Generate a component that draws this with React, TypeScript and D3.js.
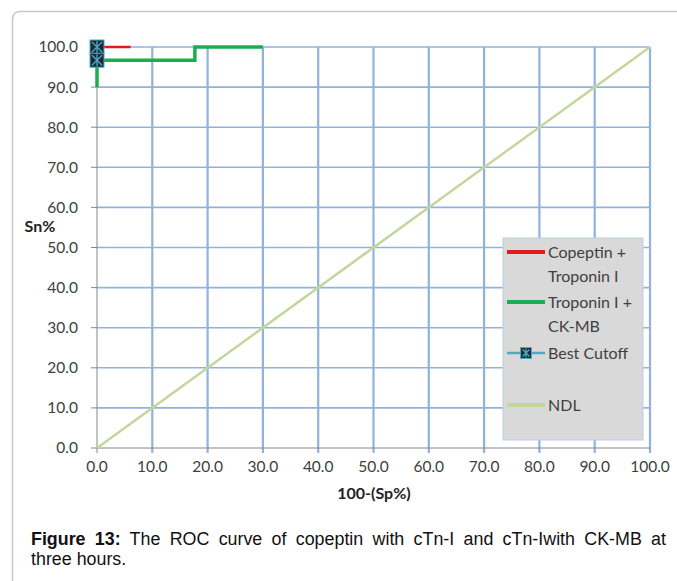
import React, { useLayoutEffect, useRef, useState } from 'react'
import * as d3 from 'd3'

// axis ticks (percent)
const xTicks = [0, 10, 20, 30, 40, 50, 60, 70, 80, 90, 100]
const yTicks = [0, 10, 20, 30, 40, 50, 60, 70, 80, 90, 100]

type Pt = { x: number, y: number }

// ROC curves
const copeptinTroponin: Pt[] = [{ x: 0, y: 100 }, { x: 6.1, y: 100 }]
const troponinCkmb: Pt[] = [
    { x: 0, y: 90 }, { x: 0, y: 96.7 }, { x: 17.7, y: 96.7 },
    { x: 17.7, y: 100 }, { x: 30, y: 100 }
]
const bestCutoff: Pt[] = [{ x: 0, y: 100 }, { x: 0, y: 96.7 }]
const ndl: Pt[] = [{ x: 0, y: 0 }, { x: 100, y: 100 }]

const legendItems = [
    { lines: ['Copeptin +', 'Troponin I'], color: '#e31a1c', kind: 'line' },
    { lines: ['Troponin I +', 'CK-MB'], color: '#1aae4f', kind: 'line' },
    { lines: ['Best Cutoff'], color: '#4bacc6', kind: 'marker' },
    { lines: ['NDL'], color: '#c3d69b', kind: 'line' }
]

const captionBold = 'Figure 13:'
const captionLine1 = ' The ROC curve of copeptin with cTn-I and cTn-Iwith CK-MB at'
const captionLine2 = 'three hours.'

const FONT = 'Lato, "Open Sans", sans-serif'
const CAP_FONT = '"Liberation Sans", Arial, sans-serif'
const TEXT = '#404040'
const GRID = '#8fb2df'

const Marker = ({ x, y, size }: { x: number, y: number, size: number }) => {
    const h = size / 2
    return (
        <g transform={`translate(${x}, ${y})`}>
            <rect x={-h} y={-h} width={size} height={size} fill='#1c2b36' stroke='#4bacc6' strokeWidth={1} />
            <path d={`M${-h + 2},${-h + 2}L${h - 2},${h - 2}M${h - 2},${-h + 2}L${-h + 2},${h - 2}M0,${-h + 1}L0,${h - 1}`}
                stroke='#4bacc6' strokeWidth={1.3} fill='none' />
        </g>
    )
}

export default function App () {
    const width = 677
    const height = 581
    const x = d3.scaleLinear().domain([0, 100]).range([97, 650])
    const y = d3.scaleLinear().domain([0, 100]).range([448, 47])
    const line = d3.line<Pt>().x(d => x(d.x)).y(d => y(d.y))

    const lg = { left: 503, top: 238, w: 140, h: 202 }
    const itemY = [252, 302, 353, 405]

    // justify the first caption line like the journal layout
    const capScale = 0.94
    const capRef = useRef<SVGTextElement>(null)
    const [wordSpacing, setWordSpacing] = useState(0)
    useLayoutEffect(() => {
        if (!capRef.current) return
        const natural = capRef.current.getComputedTextLength()
        const spaces = (captionBold + captionLine1).split(' ').length - 1
        const target = 635 / capScale
        setWordSpacing((target - natural) / spaces)
    }, [])

    return (
        <svg width={width} height={height} style={{ position: 'absolute', left: 0, top: 0, background: '#fff' }}>
            {/* outer frame */}
            <path d={`M12.5,${height + 5}L12.5,19.5Q12.5,11.5 20.5,11.5L${width + 5},11.5`}
                fill='none' stroke='#c8c8c8' strokeWidth={1.5} />

            {/* grid */}
            <g>
                {yTicks.filter(t => t > 0).map(t => (
                    <line key={'gy' + t} x1={x(0)} x2={x(100)} y1={y(t)} y2={y(t)} stroke={GRID} strokeWidth={1.6} />
                ))}
                {xTicks.filter(t => t > 0).map(t => (
                    <line key={'gx' + t} x1={x(t)} x2={x(t)} y1={y(100)} y2={y(0) + 5} stroke={GRID} strokeWidth={2.2} />
                ))}
            </g>

            {/* axes */}
            <line x1={x(0)} x2={x(100)} y1={y(0)} y2={y(0)} stroke='#868686' strokeWidth={1} />
            <line x1={x(0)} x2={x(0)} y1={y(0)} y2={y(100)} stroke='#868686' strokeWidth={1} />
            {yTicks.map(t => (
                <g key={'ty' + t}>
                    <line x1={x(0) - 6} x2={x(0)} y1={y(t)} y2={y(t)} stroke='#868686' />
                    <text x={78} y={y(t)} dy='0.35em' textAnchor='end' fontFamily={FONT} fontSize={15.5} fill={TEXT}>
                        {t.toFixed(1)}
                    </text>
                </g>
            ))}
            <line x1={x(0)} x2={x(0)} y1={y(0)} y2={y(0) + 5} stroke='#868686' />
            {xTicks.map(t => (
                <text key={'tx' + t} x={x(t)} y={467} dy='0.35em' textAnchor='middle' fontFamily={FONT} fontSize={15.5} fill={TEXT}>
                    {t.toFixed(1)}
                </text>
            ))}
            <text x={40} y={226} dy='0.35em' textAnchor='middle' fontFamily={FONT} fontSize={16} fontWeight='bold' fill='#222'>Sn%</text>
            <text x={374} y={493} dy='0.35em' textAnchor='middle' fontFamily={FONT} fontSize={16} fontWeight='bold' fill='#222'>100-(Sp%)</text>

            {/* series */}
            <path d={line(ndl)!} fill='none' stroke='#c3d69b' strokeWidth={2.5} />
            <path d={line(copeptinTroponin)!} fill='none' stroke='#e31a1c' strokeWidth={2.5} />
            <path d={line(troponinCkmb)!} fill='none' stroke='#1aae4f' strokeWidth={3.5} />
            <path d={line(bestCutoff)!} fill='none' stroke='#4bacc6' strokeWidth={2.5} />
            {bestCutoff.map((d, i) => <Marker key={i} x={x(d.x)} y={y(d.y)} size={14} />)}

            {/* legend */}
            <g>
                <rect x={lg.left} y={lg.top} width={lg.w} height={lg.h} fill='#d9d9d9' stroke='#b9cde5' strokeWidth={1} />
                {legendItems.map((item, i) => (
                    <g key={item.lines[0]} transform={`translate(${lg.left}, ${itemY[i]})`}>
                        <line x1={4} x2={42} y1={0} y2={0} stroke={item.color} strokeWidth={item.kind === 'marker' ? 2.5 : 4} />
                        {item.kind === 'marker' && <Marker x={23} y={0} size={11} />}
                        {item.lines.map((l, j) => (
                            <text key={j} x={45} y={j * 24} dy='0.35em' fontFamily={FONT} fontSize={16} fill={TEXT}>{l}</text>
                        ))}
                    </g>
                ))}
            </g>

            {/* caption */}
            <g transform={`translate(31, 0) scale(${capScale}, 1)`}>
                <text ref={capRef} x={0} y={545} fontFamily={CAP_FONT} fontSize={19} fill='#111'
                    style={{ wordSpacing: `${wordSpacing}px`, whiteSpace: 'pre' }}>
                    <tspan fontWeight='bold'>{captionBold}</tspan>{captionLine1}
                </text>
                <text x={0} y={565} fontFamily={CAP_FONT} fontSize={19} fill='#111'>{captionLine2}</text>
            </g>
        </svg>
    )
}
